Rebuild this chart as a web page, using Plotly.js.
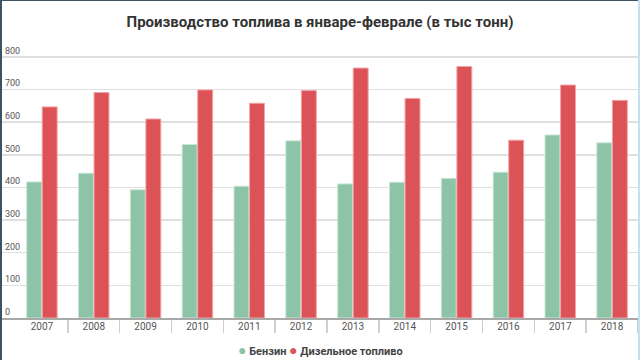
<!DOCTYPE html>
<html>
<head>
<meta charset="utf-8">
<script src="https://cdn.plot.ly/plotly-3.0.1.min.js"></script>
<style>
html,body{margin:0;padding:0;background:#fff;}
#wrap{position:relative;width:640px;height:360px;overflow:hidden;}
#chart{width:640px;height:360px;}
#bl{position:absolute;left:0;top:0;width:2px;height:360px;background:#3a5463;}
#bt{position:absolute;left:0;top:0;width:640px;height:1px;background:#3a5463;}
#br{position:absolute;right:0;top:0;width:2px;height:360px;background:#c3e1ef;}
</style>
</head>
<body>
<div id="wrap"><div id="chart"></div><div id="bl"></div><div id="bt"></div><div id="br"></div></div>
<script>
const years = ['2007','2008','2009','2010','2011','2012','2013','2014','2015','2016','2017','2018'];
const benzin = [417, 444, 393, 532, 404, 543, 411, 416, 428, 447, 561, 537];
const diesel = [647, 691, 610, 699, 658, 697, 766, 673, 771, 545, 714, 667];
const seriesNames = ['Бензин', 'Дизельное топливо'];
const yTicks = [0, 100, 200, 300, 400, 500, 600, 700, 800];
const titleText = 'Производство топлива в январе-феврале (в тыс тонн)';

const cGreen = '#8dc3a6', cRed = '#dc5357';

const traces = [
  {type:'bar', x: years, y: benzin, name: seriesNames[0],
   marker:{color:cGreen, line:{color:'#c9e6d6', width:1}}, showlegend:false, hoverinfo:'x+y'},
  {type:'bar', x: years, y: diesel, name: seriesNames[1],
   marker:{color:cRed, line:{color:'#f2a3a6', width:1}}, showlegend:false, hoverinfo:'x+y'}
];

const plotH = 360 - 45 - 42;
const layout = {
  width:640, height:360,
  margin:{l:2, r:2, t:45, b:42, pad:0},
  paper_bgcolor:'#fff', plot_bgcolor:'#fff',
  font:{family:'Roboto, sans-serif', color:'#444'},
  title:{text:'<b>'+titleText+'</b>', font:{family:'Roboto, sans-serif', size:15, color:'#333'},
         x:0.5, xanchor:'center', y:1-22/360, yanchor:'middle', yref:'container'},
  barmode:'group', bargap:0.4, bargroupgap:0.04,
  xaxis:{type:'category', range:[-0.77, 11.5], tickson:'boundaries', ticks:'outside', ticklen:13,
         tickcolor:'#cfcfcf', tickwidth:1.5, showline:true, linecolor:'#a8a8a8', linewidth:1.5,
         showgrid:false, tickfont:{size:10, color:'#555'}, ticklabelstandoff:-2, fixedrange:true},
  yaxis:{range:[0,836.7], tickvals:yTicks, ticktext:yTicks.map(String), ticklabelposition:'inside top',
         showgrid:true, gridcolor:'#e0e0e0', gridwidth:1.5, zeroline:false, showline:false,
         tickfont:{size:9, color:'#555'}, fixedrange:true},
  annotations:[{
    xref:'paper', yref:'paper', x:0.5, xanchor:'center', y:-31.5/plotH, yanchor:'middle',
    showarrow:false, font:{size:11, color:'#444', family:'Roboto, sans-serif'},
    text:'<span style="color:'+cGreen+';font-size:14px">●</span> <b>'+seriesNames[0]+'</b> <span style="color:'+cRed+';font-size:14px">●</span> <b>'+seriesNames[1]+'</b>'
  }]
};

Plotly.newPlot('chart', traces, layout, {displayModeBar:false, staticPlot:true});
</script>
</body>
</html>
